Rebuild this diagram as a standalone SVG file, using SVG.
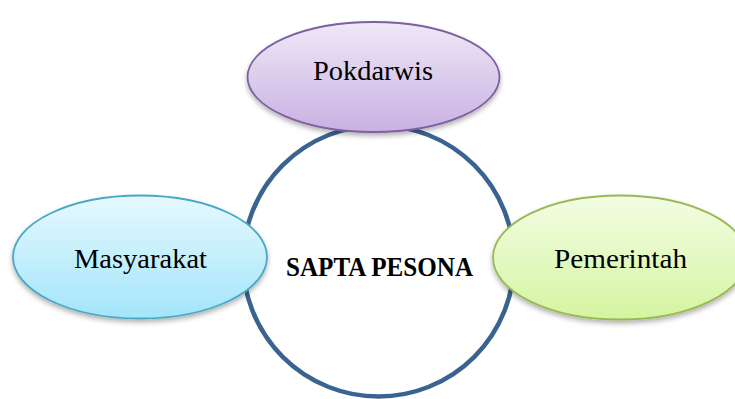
<svg xmlns="http://www.w3.org/2000/svg" width="735" height="399" viewBox="0 0 735 399">
<style>
.lbl{font-family:"Liberation Serif","Times New Roman",serif;font-size:27px;fill:#000;text-anchor:middle}
.ttl{font-family:"Liberation Serif","Times New Roman",serif;font-size:27px;font-weight:bold;fill:#000;text-anchor:middle}
.oval{stroke-width:1.8}
</style>
<defs>
<linearGradient id="gP" x1="0" y1="0" x2="0" y2="1"><stop offset="0" stop-color="#efe8f7"/><stop offset="1" stop-color="#c8b1e2"/></linearGradient>
<linearGradient id="gM" x1="0" y1="0" x2="0" y2="1"><stop offset="0" stop-color="#e6f9fe"/><stop offset="1" stop-color="#a3e5fa"/></linearGradient>
<linearGradient id="gG" x1="0" y1="0" x2="0" y2="1"><stop offset="0" stop-color="#f3fde4"/><stop offset="1" stop-color="#d5f4a0"/></linearGradient>
<filter id="sh" x="-10%" y="-10%" width="120%" height="130%"><feDropShadow dx="0" dy="3" stdDeviation="2.5" flood-color="#000" flood-opacity="0.3"/></filter>
</defs>
<g id="connectors"></g>
<g id="center">
<circle cx="378.5" cy="261" r="135.5" fill="#fff" stroke="#3a6391" stroke-width="4.5"/>
<text class="ttl" x="379.5" y="276" textLength="187" lengthAdjust="spacingAndGlyphs">SAPTA PESONA</text>
</g>
<g id="pokdarwis">
<ellipse class="oval" cx="373.5" cy="77" rx="126" ry="55" fill="url(#gP)" stroke="#7e5ea0" filter="url(#sh)"/>
<text class="lbl" x="373" y="80" textLength="120" lengthAdjust="spacingAndGlyphs">Pokdarwis</text>
</g>
<g id="masyarakat">
<ellipse class="oval" cx="140" cy="257" rx="127" ry="61.5" fill="url(#gM)" stroke="#4aa9c5" filter="url(#sh)"/>
<text class="lbl" x="140.5" y="268" textLength="133" lengthAdjust="spacingAndGlyphs">Masyarakat</text>
</g>
<g id="pemerintah">
<ellipse class="oval" cx="620" cy="257.5" rx="127" ry="62" fill="url(#gG)" stroke="#98b957" filter="url(#sh)"/>
<text class="lbl" x="620.5" y="268" textLength="133" lengthAdjust="spacingAndGlyphs">Pemerintah</text>
</g>
</svg>
